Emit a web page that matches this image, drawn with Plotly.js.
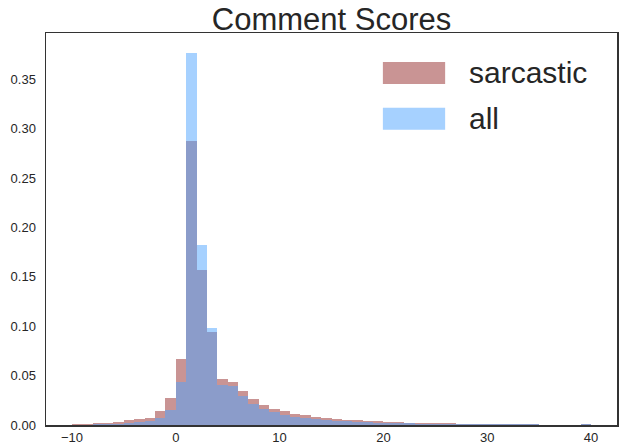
<!DOCTYPE html>
<html>
<head>
<meta charset="utf-8">
<script src="https://cdn.plot.ly/plotly-3.0.1.min.js"></script>
<style>html,body{margin:0;padding:0;background:#fff;}#chart{width:622px;height:447px;}</style>
</head>
<body>
<div id="chart"></div>
<script>
// bin left edges (width 1)
const binStarts = [-10,-9,-8,-7,-6,-5,-4,-3,-2,-1,0,1,2,3,4,5,6,7,8,9,10,11,12,13,14,15,16,17,18,19,20,21,22,23,24,25,26,27,28,29,30,31,32,33,34,35,36,37,38,39];
const sarcastic = [0.001,0.001,0.002,0.002,0.003,0.005,0.006,0.007,0.014,0.027,0.067,0.288,0.157,0.094,0.047,0.044,0.034,0.026,0.020,0.016,0.014,0.011,0.010,0.008,0.007,0.006,0.005,0.005,0.004,0.004,0.003,0.003,0.002,0.002,0.002,0.002,0.002,0.0007,0.0007,0.0007,0.0007,0.001,0.001,0.001,0.001,0.0003,0.0003,0.0003,0.0003,0.0008];
const allScores = [0.0005,0.0005,0.001,0.001,0.0015,0.002,0.003,0.004,0.007,0.015,0.044,0.377,0.182,0.098,0.041,0.039,0.029,0.021,0.016,0.013,0.010,0.008,0.007,0.006,0.005,0.004,0.004,0.003,0.003,0.002,0.002,0.002,0.002,0.0015,0.001,0.001,0.001,0.001,0.001,0.001,0.001,0.0006,0.0006,0.0006,0.0006,0.0004,0.0004,0.0004,0.0003,0.0012];
const seriesNames = ['sarcastic','all'];
const xTicks = [-10,0,10,20,30,40];
const yTicks = [0,0.05,0.10,0.15,0.20,0.25,0.30,0.35];

const centers = binStarts.map(b => b + 0.5);
const sarcColor = 'rgba(147,41,41,0.5)';
const allColor = 'rgba(77,163,255,0.5)';
const font = 'Liberation Sans, Arial, sans-serif';
const txt = '#262626';

const traces = [
  {type:'bar', x:centers, y:sarcastic, width:1, name:seriesNames[0],
   marker:{color:sarcColor, line:{width:0}}, hoverinfo:'skip'},
  {type:'bar', x:centers, y:allScores, width:1, name:seriesNames[1],
   marker:{color:allColor, line:{width:0}}, hoverinfo:'skip'}
];

const layout = {
  width:622, height:447,
  margin:{l:46, r:5, t:33, b:22},
  paper_bgcolor:'#fff', plot_bgcolor:'#fff',
  barmode:'overlay', bargap:0,
  showlegend:false,
  font:{family:font, color:txt, size:13},
  title:{text:'Comment Scores', font:{family:font, size:31, color:txt},
         x:0.5, xref:'paper', xanchor:'center', y:0.958, yref:'container', yanchor:'middle'},
  xaxis:{range:[-12.5,42.5], tickvals:xTicks, ticks:'', 
         showgrid:false, zeroline:false, showline:true, mirror:true, linecolor:'#333', linewidth:1.5,
         tickfont:{size:13, color:txt}},
  yaxis:{range:[0,0.397], tickvals:yTicks, tickformat:'.2f', ticks:'outside', ticklen:6, tickcolor:'rgba(0,0,0,0)',
         showgrid:false, zeroline:false, showline:true, mirror:true, linecolor:'#333', linewidth:1.5,
         tickfont:{size:13, color:txt}},
  shapes:[
    {type:'rect', xref:'paper', yref:'paper', x0:0.590, x1:0.699, y0:0.870, y1:0.926, fillcolor:sarcColor, line:{width:0}},
    {type:'rect', xref:'paper', yref:'paper', x0:0.590, x1:0.699, y0:0.753, y1:0.809, fillcolor:allColor, line:{width:0}}
  ],
  annotations:[
    {xref:'paper', yref:'paper', x:0.737, y:0.898, xanchor:'left', yanchor:'middle', showarrow:false,
     text:seriesNames[0], font:{family:font, size:30, color:txt}},
    {xref:'paper', yref:'paper', x:0.737, y:0.781, xanchor:'left', yanchor:'middle', showarrow:false,
     text:seriesNames[1], font:{family:font, size:30, color:txt}}
  ]
};

Plotly.newPlot('chart', traces, layout, {displayModeBar:false, staticPlot:true});
</script>
</body>
</html>
